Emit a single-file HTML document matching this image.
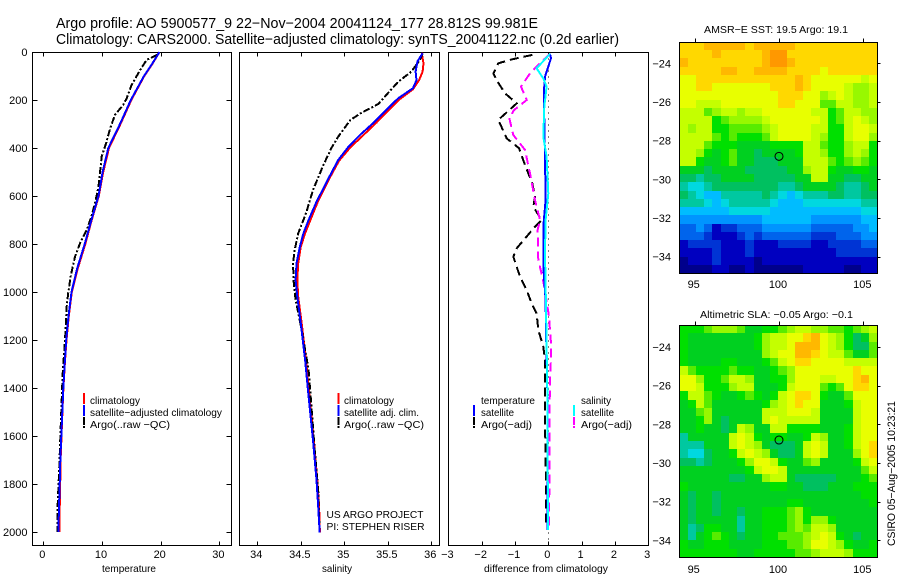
<!DOCTYPE html>
<html>
<head>
<meta charset="utf-8">
<title>Argo profile 5900577_9</title>
<style>
html,body{margin:0;padding:0;background:#fff;width:900px;height:580px;overflow:hidden}
svg{display:block}
text{font-family:"Liberation Sans",sans-serif;fill:#000}
</style>
</head>
<body>
<svg id="chart" xmlns="http://www.w3.org/2000/svg" width="900" height="580" viewBox="0 0 900 580"></svg>
<script>
// ---------- profile data ----------
const tempClimP=[0,51,100,200,300,400,500,600,700,800,900,1000,1100,1200,1300,1400,1500,1600,1700,1800,1900,2000];
const tempClim=[19.8,18.55,17.2,15.0,13.15,11.2,10.2,9.45,8.25,7.15,5.9,4.85,4.35,3.95,3.66,3.42,3.26,3.1,2.95,2.88,2.8,2.72];
const tempSat=[19.8,18.5,17.15,14.9,13.06,11.07,10.1,9.4,8.2,7.05,5.8,4.8,4.3,3.9,3.64,3.4,3.24,3.07,2.9,2.8,2.68,2.56];
const tempArgoP=[12,33,75,137,193,221,262,318,380,436,505,561,630,686,742,797,853,936,1005,1061,1200,1339,1450,1575,1728,1894,1999];
const tempArgo=[19.4,17.6,16.5,15.05,14.2,13.6,12.2,11.4,10.7,9.95,9.65,9.4,8.8,8.2,7.4,6.25,5.4,4.65,4.25,3.98,3.7,3.3,3.13,2.95,2.73,2.44,2.44];

const salClimP=[3,47,82,117,155,196,231,294,353,397,453,526,620,700,756,811,881,950,1019,1131,1283,1436,1617,1783,1894,2003];
const salClim=[35.89,35.91,35.9,35.86,35.79,35.64,35.54,35.37,35.2,35.07,34.94,34.83,34.7,34.61,34.55,34.5,34.47,34.46,34.47,34.51,34.56,34.6,34.65,34.69,34.71,34.72];
const salSatP=[5,40,82,117,151,193,228,290,346,394,450,526,624,700,756,811,881,950,1019,1131,1283,1436,1617,1783,1894,2003];
const salSat=[35.9,35.84,35.82,35.83,35.79,35.62,35.52,35.35,35.18,35.05,34.93,34.82,34.68,34.59,34.53,34.49,34.45,34.44,34.46,34.5,34.55,34.59,34.64,34.68,34.7,34.717];
const salArgoP=[5,33,82,124,172,217,253,283,353,401,471,575,672,756,825,881,964,1033,1158,1325,1464,1658,1825,2003];
const salArgo=[35.9,35.87,35.77,35.62,35.5,35.39,35.2,35.07,34.93,34.85,34.76,34.64,34.56,34.47,34.43,34.41,34.42,34.44,34.51,34.59,34.62,34.66,34.7,34.717];

const diffTempArgoP=[12,31,47,89,124,172,214,283,360,401,471,547,603,644,700,728,818,853,936,992,1047,1089,1158,1228,1283,1408,1547,1686,1825,1978];
const diffTempArgo=[-0.48,-1.1,-1.5,-1.65,-1.52,-1.3,-0.95,-1.5,-1.25,-0.88,-0.7,-0.48,-0.4,-0.45,-0.2,-0.4,-0.95,-1.05,-0.85,-0.65,-0.5,-0.35,-0.3,-0.15,-0.1,-0.1,-0.1,-0.08,-0.07,-0.07];
const diffSalArgoP=[8,40,89,144,200,242,276,346,408,506,617,700,742,867,936,992,1103,1214,1270,1380,1547,1686,1825,1978];
const diffSalArgo=[0.05,-0.2,-0.55,-0.82,-0.65,-1.03,-1.17,-1.05,-0.7,-0.55,-0.4,-0.25,-0.32,-0.3,-0.18,-0.1,0.02,0.08,0.08,0.05,0.03,0.03,0.03,0.02];
const diffTempSatP=[8,26,103,158,297,436,617,728,894,1033,1158,1408,1992];
const diffTempSat=[0.05,0.08,-0.1,-0.13,-0.12,-0.1,-0.08,-0.15,-0.15,-0.08,-0.07,-0.03,-0.02];
const diffSalSatP=[8,68,110,144,228,353,436,589,700,839,1061,1408,1992];
const diffSalSat=[0.05,-0.35,-0.15,-0.05,-0.12,-0.15,-0.05,0,-0.08,-0.1,-0.07,-0.03,-0.01];

// ---------- tick labels ----------
const pressureTicks=[0,200,400,600,800,1000,1200,1400,1600,1800,2000];
const tempTicks=[0,10,20,30];
const salTicks=[34,34.5,35,35.5,36];
const diffTicks=[-3,-2,-1,0,1,2,3];
const lonTicks=[95,100,105];
const latTicks=[-24,-26,-28,-30,-32,-34];
const argoLon=[100];
const argoLat=[-28.812];

// ---------- map data: colour levels, north to south ----------
const sstGrid=[
[15,15,15,16,16,16,16,16,15,16,16,16,16,16,15,15,15,15,15,15,15,15,15,15],
[15,15,15,15,16,15,15,15,15,15,16,17,17,15,15,15,15,15,15,15,15,15,15,15],
[16,15,15,15,15,15,15,15,15,15,16,17,17,16,15,15,15,15,15,15,15,15,15,15],
[15,15,15,15,15,16,16,15,15,16,16,16,16,15,15,15,15,14,15,15,15,15,15,15],
[14,14,15,15,15,15,15,15,15,15,15,15,15,15,16,15,14,14,14,14,14,14,13,14],
[14,14,15,15,14,14,14,14,14,14,14,15,15,15,16,15,14,14,14,14,13,12,12,13],
[14,14,14,14,14,14,14,14,14,14,14,14,15,15,15,14,14,12,13,14,13,12,12,13],
[14,14,13,13,13,14,14,14,14,14,14,14,15,15,14,14,14,11,11,13,13,12,12,13],
[13,13,13,11,12,13,13,12,13,13,14,14,14,14,14,14,13,13,10,11,13,13,12,12],
[13,13,13,13,10,11,12,12,12,12,13,14,14,14,14,14,14,13,10,11,13,14,13,12],
[13,12,13,13,10,10,11,11,11,11,12,13,14,14,14,14,13,13,10,10,13,14,14,13],
[13,13,13,13,11,10,11,10,10,10,11,13,14,14,14,14,13,12,10,10,13,14,14,12],
[13,13,13,11,10,10,10,9,9,9,9,10,10,10,10,13,13,11,10,10,12,13,13,10],
[13,13,12,10,9,10,11,9,9,8,9,9,9,9,10,13,13,12,10,10,12,13,12,10],
[13,13,10,9,9,10,11,9,9,8,8,8,9,9,9,13,13,13,11,10,11,12,11,10],
[9,9,9,8,9,9,9,9,8,8,8,8,8,9,9,12,13,13,10,9,9,10,10,9],
[8,8,7,8,8,9,9,9,9,8,8,8,8,8,9,9,13,13,9,9,8,8,9,9],
[7,6,6,7,8,8,8,8,8,8,8,8,7,7,8,9,9,9,9,8,7,7,8,9],
[8,7,6,5,5,7,7,7,7,7,8,7,6,5,6,7,7,7,8,8,7,7,8,8],
[7,7,7,6,5,6,7,7,7,7,7,6,5,5,5,6,6,6,6,6,6,6,7,7],
[5,5,5,5,5,5,6,6,6,6,6,5,5,5,5,5,5,5,5,5,5,5,6,6],
[4,4,4,4,4,4,4,4,4,4,5,5,5,5,5,5,4,4,4,4,4,4,5,5],
[3,3,4,3,1,2,2,3,3,3,4,4,4,4,4,4,3,3,3,3,3,4,4,5],
[3,3,3,2,1,1,1,2,3,2,3,3,3,3,3,3,2,2,2,3,3,3,4,4],
[1,2,2,2,2,1,1,1,2,1,1,1,2,2,2,2,1,1,2,2,2,2,3,3],
[1,1,1,1,2,1,1,1,2,1,1,1,1,1,1,1,1,1,1,2,2,2,2,2],
[0,1,1,1,2,1,1,1,1,0,1,1,1,1,1,1,1,1,1,1,1,1,1,1],
[0,0,0,0,1,1,0,0,1,0,0,0,0,0,0,1,1,1,1,1,0,0,1,1]
];
const slaGrid=[
[10,10,10,11,12,12,12,11,9,9,10,10,11,12,13,13,12,12,11,11,10,11,12,13],
[10,9,9,9,9,9,9,9,9,10,12,13,13,14,14,15,16,14,13,12,10,8,9,12],
[10,9,9,9,9,9,9,9,9,10,12,13,13,14,16,16,16,14,13,12,10,8,8,11],
[10,9,9,9,9,9,9,9,9,9,12,13,14,14,16,16,15,14,13,13,11,9,9,11],
[10,9,9,9,9,10,10,9,9,9,10,11,13,14,15,15,14,14,14,14,13,13,13,13],
[13,11,10,10,10,10,11,10,10,9,9,10,11,12,14,14,14,14,14,14,14,15,14,14],
[14,14,12,10,10,11,13,13,12,9,9,10,10,12,14,14,14,13,13,14,14,15,16,14],
[14,14,13,10,10,10,12,13,13,9,9,9,10,13,14,14,14,11,10,11,14,15,15,14],
[10,13,13,11,10,9,9,10,11,10,9,10,13,14,15,15,14,10,9,9,11,14,14,14],
[9,10,13,11,9,9,9,9,9,9,10,12,13,14,15,14,14,9,9,9,10,13,14,14],
[9,9,11,12,9,9,9,9,9,9,13,13,13,14,14,14,13,9,9,9,9,13,14,14],
[9,9,10,12,9,8,9,9,9,9,13,14,13,13,13,13,13,9,9,9,9,13,14,14],
[9,9,10,9,9,8,9,13,12,9,9,13,13,10,10,10,10,9,9,9,10,13,14,14],
[7,9,9,9,9,9,13,14,13,10,9,10,10,9,9,10,13,12,9,9,10,13,14,14],
[7,7,7,9,9,9,13,14,13,12,9,8,8,8,9,13,14,13,9,9,10,13,14,15],
[7,6,6,8,9,9,10,13,14,13,12,9,8,8,9,13,14,13,9,9,9,12,14,15],
[8,8,7,8,9,9,9,10,12,14,14,13,10,9,9,11,12,9,9,9,9,10,13,14],
[9,9,9,9,9,9,9,9,10,13,14,14,13,9,9,9,9,9,9,9,9,9,11,13],
[9,9,9,9,9,9,8,8,9,9,12,13,13,9,8,8,8,8,8,9,9,9,10,11],
[10,9,9,9,9,9,9,9,9,9,9,10,10,9,9,8,8,8,9,9,9,10,10,10],
[9,8,9,9,8,9,9,9,9,9,9,9,9,9,9,9,9,9,9,9,9,9,10,10],
[9,8,9,9,8,9,9,9,9,9,9,9,9,10,10,9,9,9,9,9,9,9,9,10],
[9,8,9,9,8,9,9,8,9,9,10,10,10,11,12,10,9,9,9,9,9,9,9,9],
[9,8,9,9,9,9,9,7,9,9,10,10,10,11,12,10,12,12,10,9,9,9,9,9],
[9,7,8,10,10,9,9,7,9,9,10,10,10,11,12,11,13,13,12,9,9,9,9,9],
[9,7,9,10,11,10,9,8,9,9,10,10,11,11,11,12,13,14,13,10,9,8,9,9],
[10,9,9,10,10,10,9,9,9,9,10,10,10,11,11,12,14,14,13,12,10,9,9,10],
[10,10,10,10,10,10,10,9,9,10,10,10,10,10,11,11,12,13,13,13,12,10,10,10]
];
const levelColors=['#00008c','#0000c0','#0034d4','#0064ec','#0094ff','#00bcff','#00d8e0','#00c8a0','#00c060','#00d020','#00e000','#58ec00','#98f800','#c4ff00','#e8ff00','#ffd800','#ffb800','#ff9800'];

// ---------- helpers ----------
const NS='http://www.w3.org/2000/svg';
const svg=document.getElementById('chart');
function mk(tag,attrs,parent){
  const el=document.createElementNS(NS,tag);
  for(const k in attrs) el.setAttribute(k,attrs[k]);
  (parent||svg).appendChild(el);
  return el;
}
function label(str,x,y,size,anchor,parent){
  const el=mk('text',{x:x,y:y,'font-size':size,'text-anchor':anchor||'start'},parent);
  el.textContent=String(str).replace(/-/g,'\u2212');
  return el;
}
function fit(el,len){
  el.setAttribute('textLength',len);
  el.setAttribute('lengthAdjust','spacingAndGlyphs');
  return el;
}
function fitted(str,x,y,size,len){
  return fit(label(str,x,y,size,'start'),len);
}
function seg(x1,y1,x2,y2,parent){
  return mk('line',{x1:x1,y1:y1,x2:x2,y2:y2,stroke:'#000','stroke-width':1,'shape-rendering':'crispEdges'},parent);
}

// ---------- panels ----------
const top0=52.5, bottom0=545.5;
const yP=p=>52+p*0.24;
const xT=v=>43.3+v*5.87;
const xS=v=>257.3+(v-34)*87;
const xD=v=>548.3+v*33.3;

function frame(name,left,right,xScale,ticks,title,titleX,titleLen,yTicks){
  const g=mk('g',{});
  
  
  const box=mk('rect',{x:left,y:top0,width:right-left,height:bottom0-top0,fill:'#fff',stroke:'#000','stroke-width':1,'shape-rendering':'crispEdges'},g);
  
  
  ticks.forEach(t=>{
    const x=Math.round(xScale(t))+0.5;
    if(x>left+1&&x<right-1){
      seg(x,top0,x,top0+4,g);
      seg(x,bottom0,x,bottom0-4,g);
    }
    const lab=label(t,xScale(t)-1,558,11,'middle',g);
    
    
  });
  const xl=fitted(title,titleX,572,10.5,titleLen);
  g.appendChild(xl);
  
  
  if(yTicks){
    yTicks.forEach(t=>{
      const y=Math.round(yP(t))+0.5;
      if(t>0){
        seg(left,y,left+5,y,g);
        seg(right,y,right-5,y,g);
      }
      const lab=label(t,27.5,yP(t)+4,11,'end',g);
      
      
    });
  }
}
function series(name,pres,vals,xScale,color,dash,width){
  const pts=pres.map((p,i)=>xScale(vals[i]).toFixed(1)+','+yP(p).toFixed(1)).join(' ');
  const line=mk('polyline',{points:pts,fill:'none',stroke:color,'stroke-width':width||2,'shape-rendering':'crispEdges'});
  if(dash) line.setAttribute('stroke-dasharray',dash);
  
  
}
function legendEntry(name,barX,textX,y,color,str,len,dash){
  if(color){
    const bar=mk('line',{x1:barX,y1:y-11,x2:barX,y2:y,stroke:color,'stroke-width':2,'shape-rendering':'crispEdges'});
    if(dash) bar.setAttribute('stroke-dasharray',dash);
    
    
  }
  const t=fitted(str,textX,y,10.5,len);
  
  
}

frame('temperature-panel',32.5,231.5,xT,tempTicks,'temperature',102,54,pressureTicks);
frame('salinity-panel',239.5,439.5,xS,salTicks,'salinity',322,30,null);
frame('difference-panel',448.5,648.5,xD,diffTicks,'difference from climatology',484,124,null);

const ARGO_DASH='7 2 2 2';
series('temperature-climatology-line',tempClimP,tempClim,xT,'#ff0000');
series('temperature-argo-line',tempArgoP,tempArgo,xT,'#000000',ARGO_DASH);
series('temperature-satellite-line',tempClimP,tempSat,xT,'#0000ff');

series('salinity-climatology-line',salClimP,salClim,xS,'#ff0000');
series('salinity-argo-line',salArgoP,salArgo,xS,'#000000',ARGO_DASH);
series('salinity-satellite-line',salSatP,salSat,xS,'#0000ff');

const zero=mk('line',{x1:Math.round(xD(0))+0.5,y1:top0,x2:Math.round(xD(0))+0.5,y2:bottom0,stroke:'#000','stroke-width':1,'stroke-dasharray':'1 5','shape-rendering':'crispEdges'});


series('diff-temperature-argo-line',diffTempArgoP,diffTempArgo,xD,'#000000','9 5');
series('diff-salinity-argo-line',diffSalArgoP,diffSalArgo,xD,'#ff00ff','9 5');
series('diff-temperature-satellite-line',diffTempSatP,diffTempSat,xD,'#0000ff');
series('diff-salinity-satellite-line',diffSalSatP,diffSalSat,xD,'#00ffff');

legendEntry('legend-temp-climatology',84,90,404,'#ff0000','climatology',50);
legendEntry('legend-temp-satellite',84,90,416,'#0000ff','satellite-adjusted climatology',132);
legendEntry('legend-temp-argo',84,90,428,'#000000','Argo(..raw -QC)',80,'8 1');
legendEntry('legend-sal-climatology',338.5,344,404,'#ff0000','climatology',50);
legendEntry('legend-sal-satellite',338.5,344,416,'#0000ff','satellite adj. clim.',75);
legendEntry('legend-sal-argo',338.5,344,428,'#000000','Argo(..raw -QC)',80,'8 1');
legendEntry('legend-diff-temperature-heading',474,481,404,null,'temperature',54);
legendEntry('legend-diff-temp-satellite',474,481,416,'#0000ff','satellite',33);
legendEntry('legend-diff-temp-argo',474,481,428,'#000000','Argo(-adj)',51,'8 1');
legendEntry('legend-diff-salinity-heading',574,581,404,null,'salinity',30);
legendEntry('legend-diff-sal-satellite',574,581,416,'#00ffff','satellite',33);
legendEntry('legend-diff-sal-argo',574,581,428,'#ff00ff','Argo(-adj)',51,'8 1');

const proj=fitted('US ARGO PROJECT',326.5,518,10.5,97);


const pi=fitted('PI: STEPHEN RISER',326.5,530,10.5,98);



const t1=fitted('Argo profile: AO 5900577_9 22-Nov-2004 20041124_177 28.812S 99.981E',56,28,14.5,482);


const t2=fitted('Climatology: CARS2000. Satellite-adjusted climatology: synTS_20041122.nc (0.2d earlier)',56,44,14.5,563);



// ---------- maps ----------
function drawMap(name,grid,left,right,top,bottom,lat24,title,titleX,titleLen,titleY,labelY){
  const xLon=v=>694.7+(v-95)*16.86;
  const yLat=v=>lat24+(-24-v)*19.33;
  const lonStart=(left-694.7)/16.86+95;
  const latStart=-24-(top-lat24)/19.33;
  const dLon=(right-left)/16.86/grid[0].length;
  const dLat=(bottom-top)/19.33/grid.length;
  const g=mk('g',{});
  
  
  grid.forEach((row,r)=>{
    row.forEach((v,c)=>{
      const x0=Math.round(xLon(lonStart+c*dLon));
      const x1=Math.round(xLon(lonStart+(c+1)*dLon));
      const y0=Math.round(yLat(latStart-r*dLat));
      const y1=Math.round(yLat(latStart-(r+1)*dLat));
      const idx=Math.max(0,Math.min(levelColors.length-1,Math.round(v)));
      const cell=mk('rect',{x:x0,y:y0,width:x1-x0,height:y1-y0,fill:levelColors[idx],'shape-rendering':'crispEdges'},g);
      
      
    });
  });
  const L=Math.round(left)+0.5, R=Math.round(right)+0.5, T=Math.round(top)+0.5, B=Math.round(bottom)+0.5;
  const border=mk('rect',{x:L,y:T,width:R-L,height:B-T,fill:'none',stroke:'#000','stroke-width':1,'shape-rendering':'crispEdges'},g);
  
  
  lonTicks.forEach(t=>{
    const x=Math.round(xLon(t))+0.5;
    seg(x,T,x,T-4,g);
    const lab=label(t,xLon(t)-1,labelY,11,'middle',g);
    
    
  });
  latTicks.forEach(t=>{
    const y=Math.round(yLat(t))+0.5;
    seg(R,y,R+3,y,g);
    const lab=label(t,671,yLat(t)+4,11,'end',g);
    
    
  });
  const ttl=fitted(title,titleX,titleY,10.5,titleLen);
  g.appendChild(ttl);
  
  
  argoLon.forEach((lon,i)=>{
    const m=mk('circle',{cx:xLon(lon),cy:yLat(argoLat[i]),r:4,fill:'none',stroke:'#000','stroke-width':1},g);
    
    
  });
}
drawMap('sst',sstGrid,679.3,877.3,41.7,273.3,63.3,'AMSR-E SST: 19.5 Argo: 19.1',704,144,33,288);
drawMap('sla',slaGrid,679.3,877.3,325,557,347,'Altimetric SLA: -0.05 Argo: -0.1',700,153,318,573);

const stamp=label('CSIRO 05-Aug-2005 10:23:21',0,0,11,'start');
stamp.setAttribute('transform','translate(895,546) rotate(-90)');
stamp.setAttribute('textLength','145');
stamp.setAttribute('lengthAdjust','spacingAndGlyphs');


</script>
</body>
</html>
